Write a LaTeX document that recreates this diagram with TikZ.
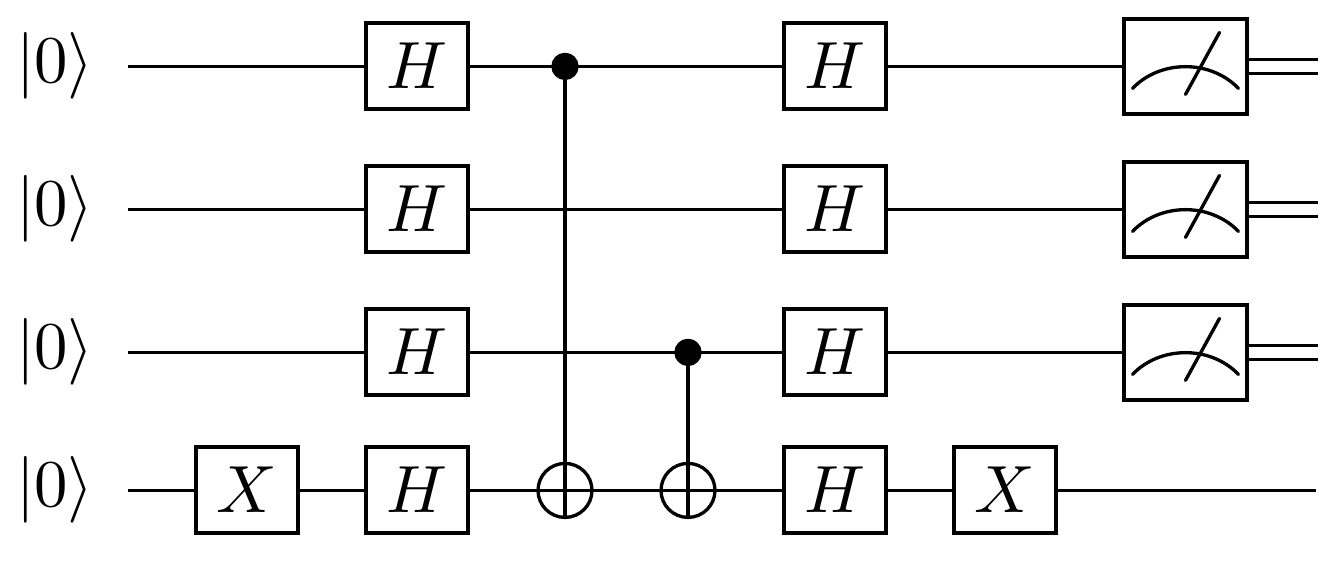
\documentclass[tikz,border=0pt]{standalone}
\usepackage{amsmath,amssymb}
\usetikzlibrary{positioning}
\usetikzlibrary{calc}

\begin{document}
\begin{tikzpicture}[
    x=0.02cm,y=-0.02cm,
    line width=1.9pt,
    ket/.style={inner sep=0pt,scale=3.8},
    gate/.style={draw,fill=white,scale=3.8,minimum width=2.04cm/3.8,minimum height=1.72cm/3.8,inner sep=0pt},
    meter/.style={draw,fill=white,minimum width=2.46cm,minimum height=1.9cm,inner sep=0pt},
    ctrl/.style={circle,fill=black,draw,inner sep=0pt,minimum size=0.48cm},
    target/.style={circle,draw,inner sep=0pt,minimum size=1.08cm}
    ]
    \useasboundingbox (0,0) rectangle (1342,565);

    % wire ends
    \coordinate (w0) at (128,66.4);
    \coordinate (w1) at (128,209.4);
    \coordinate (w2) at (128,352.4);
    \coordinate (w3) at (128,490.4);
    \coordinate (e3) at (1316,490.4);

    \node[ket] (k0) at (55,66) {$|0\rangle$};
    \node[ket] (k1) at (55,209) {$|0\rangle$};
    \node[ket] (k2) at (55,352) {$|0\rangle$};
    \node[ket] (k3) at (55,490) {$|0\rangle$};

    \node[meter] (m0) at (1185.5,66.4) {};
    \node[meter] (m1) at (1185.5,209.4) {};
    \node[meter] (m2) at (1185.5,352.4) {};

    \draw (w0) -- (m0);
    \draw (w1) -- (m1);
    \draw (w2) -- (m2);
    \draw (w3) -- (e3);

    \node[gate] (x0) at (247,490) {$X$};
    \node[gate] (h0) at (417,66) {$H$};
    \node[gate] (h1) at (417,209) {$H$};
    \node[gate] (h2) at (417,352) {$H$};
    \node[gate] (h3) at (417,490) {$H$};
    \node[gate] (h4) at (835,66) {$H$};
    \node[gate] (h5) at (835,209) {$H$};
    \node[gate] (h6) at (835,352) {$H$};
    \node[gate] (h7) at (835,490) {$H$};
    \node[gate] (x1) at (1005,490) {$X$};

    \node[ctrl] (c0) at (565,66.4) {};
    \node[ctrl] (c1) at (688,352.4) {};
    \node[target] (t0) at (565,490.4) {};
    \node[target] (t1) at (688,490.4) {};
    \draw (c0) -- (t0.south);
    \draw (c1) -- (t1.south);

    \foreach \m in {m0,m1,m2} {
      \draw[line cap=round] ($(\m.center)+(-53,22)$) .. controls ($(\m.center)+(-25,-7)$) and ($(\m.center)+(25,-7)$) .. ($(\m.center)+(53,22)$);
      \draw[line cap=round] ($(\m.center)+(0,28)$) -- ($(\m.center)+(34,-34)$);
      \draw ($(\m.east)+(0,-7)$) -- ++(69,0);
      \draw ($(\m.east)+(0,7)$) -- ++(69,0);
    }
  \end{tikzpicture}
\end{document}
